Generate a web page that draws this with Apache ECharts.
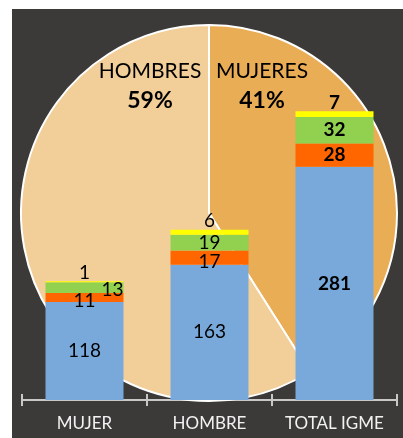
<!DOCTYPE html>
<html><head><meta charset="utf-8">
<script src="https://cdn.jsdelivr.net/npm/echarts@6/dist/echarts.min.js"></script>
<style>html,body{margin:0;padding:0;background:#fff}#c{width:403px;height:438px}</style>
</head><body><div id="c"></div>
<script>
var categories = ['MUJER', 'HOMBRE', 'TOTAL IGME'];
var seriesBlue = [118, 163, 281];
var seriesOrange = [11, 17, 28];
var seriesGreen = [13, 19, 32];
var seriesYellow = [1, 6, 7];
var pieNames = ['MUJERES', 'HOMBRES'];
var pieValues = [41, 59];

var FONT = 'Lato';
function mk(vals, extra) {
  return vals.map(function (v, i) {
    var d = { value: v };
    var lab = { fontWeight: i === 2 ? 'bold' : 'normal' };
    if (extra && extra[i]) for (var k in extra[i]) lab[k] = extra[i][k];
    d.label = lab;
    return d;
  });
}
var labBase = { show: true, color: '#000', fontSize: 19, fontFamily: FONT };

var chart = echarts.init(document.getElementById('c'), null, { renderer: 'canvas' });
chart.setOption({
  backgroundColor: '#fff',
  animation: false,
  graphic: [{ type: 'rect', z: -10, shape: { x: 12, y: 9, width: 391, height: 429 }, style: { fill: '#3b3a38' } }],
  grid: { left: 22, right: 6, top: 68, bottom: 38 },
  xAxis: [{
    type: 'category', data: categories,
    axisLine: { lineStyle: { color: '#c8c8c8', width: 2 } },
    axisTick: { show: true, length: 6, inside: false, lineStyle: { color: '#c8c8c8', width: 2 } },
    axisLabel: { color: '#f2f2f2', fontSize: 17, fontFamily: FONT, margin: 15, interval: 0, hideOverlap: false }
  }, {
    type: 'category', data: categories, position: 'bottom', offset: 0,
    axisLine: { show: false },
    axisTick: { show: true, length: 6, inside: true, lineStyle: { color: '#c8c8c8', width: 2 } },
    axisLabel: { show: false }
  }],
  yAxis: { type: 'value', min: 0, max: 400, show: false, splitLine: { show: false } },
  series: [
    {
      type: 'pie', z: 1, center: [209, 213], radius: 188, startAngle: 90, clockwise: true,
      silent: true,
      itemStyle: { borderColor: '#fff', borderWidth: 2 },
      color: ['#e9ad55', '#f2ce99'],
      label: {
        show: true, position: 'inside', color: '#000', fontFamily: FONT,
        formatter: function (p) { return '{n|' + p.name + '}\n{p|' + p.value + '%}'; },
        rich: {
          n: { fontSize: 21, fontFamily: FONT, color: '#000', lineHeight: 30, align: 'center' },
          p: { fontSize: 23, fontWeight: 'bold', fontFamily: FONT, color: '#000', lineHeight: 30, align: 'center' }
        }
      },
      labelLine: { show: false },
      labelLayout: function (p) {
        return p.dataIndex === 0 ? { x: 262, y: 86, align: 'center', verticalAlign: 'middle' }
                                 : { x: 150, y: 86, align: 'center', verticalAlign: 'middle' };
      },
      data: pieNames.map(function (n, i) { return { name: n, value: pieValues[i] }; })
    },
    { type: 'bar', stack: 's', z: 3, barWidth: 78, itemStyle: { color: '#78a9da' },
      label: Object.assign({ position: 'inside' }, labBase), data: mk(seriesBlue) },
    { type: 'bar', stack: 's', z: 3, barWidth: 78, itemStyle: { color: '#ff6600' },
      label: Object.assign({ position: 'inside' }, labBase),
      data: mk(seriesOrange, [{ offset: [0, 3] }, { offset: [0, 4] }, {}]) },
    { type: 'bar', stack: 's', z: 3, barWidth: 78, itemStyle: { color: '#92d050' },
      label: Object.assign({ position: 'inside' }, labBase),
      data: mk(seriesGreen, [{ offset: [28, 2] }, {}, {}]) },
    { type: 'bar', stack: 's', z: 3, barWidth: 78, itemStyle: { color: '#ffff00' },
      label: Object.assign({ position: 'top', distance: -1 }, labBase), data: mk(seriesYellow) }
  ]
});
</script></body></html>
